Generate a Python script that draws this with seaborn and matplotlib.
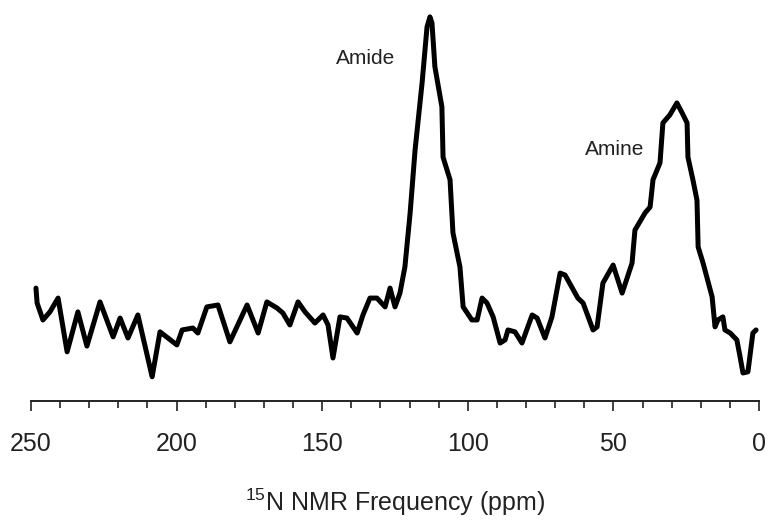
import matplotlib
matplotlib.use("Agg")
import matplotlib.pyplot as plt
import seaborn as sns
import numpy as np
from matplotlib.ticker import MultipleLocator

# 15N NMR spectrum (chemical shift in ppm, intensity in arbitrary units)
ppm = [248.3, 247.9, 245.9, 243.5, 240.7, 237.6, 233.9, 230.8, 226.3, 221.8,
       219.4, 216.7, 213.3, 208.4, 205.7, 199.9, 198.1, 194.4, 192.7, 189.6,
       185.8, 181.7, 175.8, 172.0, 169.0, 165.5, 163.5, 161.1, 158.3, 155.9,
       152.5, 149.7, 148.0, 146.3, 143.9, 141.5, 138.0, 136.0, 133.6, 131.2,
       128.4, 126.7, 125.0, 123.3, 121.6, 119.8, 118.1, 115.7, 114.0, 113.0,
       112.3, 111.3, 108.9, 108.5, 106.1, 105.1, 102.7, 101.6, 98.6, 96.8,
       95.1, 93.4, 91.3, 88.9, 87.2, 86.2, 83.8, 81.4, 77.9, 76.2,
       73.5, 71.1, 68.3, 66.6, 62.2, 60.4, 57.0, 55.6, 53.6, 50.1,
       47.0, 43.6, 42.6, 39.1, 37.4, 36.4, 34.0, 33.0, 30.6, 28.2,
       26.4, 24.7, 24.4, 22.7, 21.3, 20.9, 19.2, 16.1, 15.1, 14.1,
       12.4, 11.7, 9.9, 7.6, 6.5, 5.5, 3.8, 2.1, 1.0]
intensity = [29.4, 25.5, 21.1, 23.2, 26.8, 12.8, 23.2, 14.3, 25.8, 16.7,
             21.6, 16.4, 22.4, 6.3, 18.0, 14.6, 18.5, 19.0, 17.7, 24.5,
             25.0, 15.4, 25.0, 17.7, 25.8, 24.2, 22.9, 19.8, 25.8, 23.2,
             20.3, 22.4, 19.8, 11.2, 21.9, 21.6, 17.7, 22.4, 26.8, 26.8,
             24.5, 29.4, 24.5, 28.1, 34.9, 49.0, 65.4, 82.8, 97.4, 100.0,
             98.4, 87.0, 76.6, 63.5, 57.6, 43.8, 34.9, 24.5, 21.1, 21.1,
             26.8, 25.5, 21.9, 15.1, 15.9, 18.5, 18.0, 15.1, 22.4, 21.6,
             16.4, 21.9, 33.3, 32.8, 26.8, 25.5, 18.5, 19.3, 30.7, 35.4,
             28.1, 35.9, 44.5, 49.0, 50.5, 57.6, 62.0, 72.4, 74.5, 77.6,
             75.0, 72.4, 63.5, 57.6, 52.3, 40.1, 35.9, 27.1, 19.3, 21.1,
             21.9, 18.5, 17.7, 15.9, 11.5, 7.3, 7.6, 17.7, 18.5]

peak_labels = ["Amide", "Amine"]
peak_label_pos = [(135.0, 89.3), (49.5, 65.4)]
major_ticks = [250, 200, 150, 100, 50, 0]

sns.set_theme(style="white")
plt.rcParams["font.family"] = ["Liberation Sans", "DejaVu Sans"]
plt.rcParams["mathtext.fontset"] = "custom"
plt.rcParams["mathtext.rm"] = "Liberation Sans"
plt.rcParams["mathtext.default"] = "regular"

fig = plt.figure(figsize=(7.69, 5.29), dpi=100)
ax = fig.add_axes([31 / 769, 1 - 401 / 529, (759 - 31) / 769, 391 / 529])

sns.lineplot(x=ppm, y=intensity, ax=ax, sort=False, color="black",
             linewidth=3.6, solid_joinstyle="round", solid_capstyle="round")

ax.set_xlim(250, 0)
ax.set_ylim(0, 101.8)
ax.set_xticks(major_ticks)
ax.xaxis.set_minor_locator(MultipleLocator(10))
ax.set_yticks([])
ax.tick_params(axis="x", which="major", direction="out", length=7, width=1.2,
               color="#222222", pad=15, labelsize=18, labelcolor="#222222",
               bottom=True)
ax.tick_params(axis="x", which="minor", direction="out", length=5, width=1.2,
               color="#222222", bottom=True)
for side in ["top", "left", "right"]:
    ax.spines[side].set_visible(False)
ax.spines["bottom"].set_color("#222222")
ax.spines["bottom"].set_linewidth(1.4)
ax.set_ylabel("")
ax.set_xlabel("$^{15}$N NMR Frequency (ppm)", fontsize=18, color="#222222",
              labelpad=22)

for lab, (px, py) in zip(peak_labels, peak_label_pos):
    ax.text(px, py, lab, fontsize=15, color="#222222", ha="center", va="center")

fig.savefig("out.png", dpi=100)
